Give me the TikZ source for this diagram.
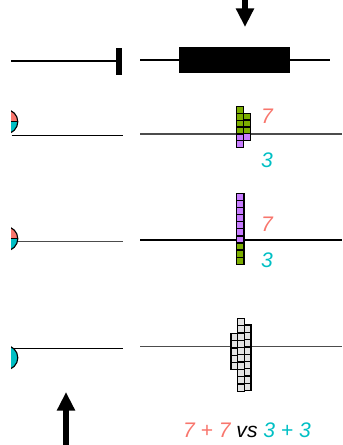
\documentclass[tikz,border=0pt]{standalone}
\usepackage{xcolor}
\usepackage{fontspec}
\setmainfont{Liberation Sans}
\usetikzlibrary{arrows.meta, positioning, calc}

\definecolor{allelered}{HTML}{F8766D}
\definecolor{allelecyan}{HTML}{00BFC4}
\definecolor{cellgreen}{HTML}{7CAE00}
\definecolor{cellpurple}{HTML}{C77CFF}
\definecolor{cellgray}{HTML}{E4E4E4}

\begin{document}
\begin{tikzpicture}[
    x=0.02cm, y=-0.02cm,
    font=\itshape\fontsize{12}{14}\selectfont,
    bigarrow/.style={line width=3.7pt, -{Triangle[width=9.8pt, length=10.6pt]}},
    axis/.style={line width=0.8pt},
    thickaxis/.style={line width=1.15pt},
    cell/.style={draw=black, line width=0.7pt},
    allele/.style={draw=black, line width=0.65pt},
    num/.style={inner sep=0pt}
  ]
  \useasboundingbox (0,0) rectangle (342,445);

  % arrows in and out
  \coordinate (intop) at (245,0);
  \coordinate (intip) at (245,27);
  \coordinate (outbase) at (66,446);
  \coordinate (outtip) at (66,392);
  \draw[bigarrow] (intop) -- (intip);
  \draw[bigarrow] (outbase) -- (outtip);

  % top row
  \draw[thickaxis] (11,61) -- (118,61);
  \fill (116,48) rectangle (122,75);
  \draw[thickaxis] (140,60) -- (330,60);
  \fill (179,47) rectangle (290,73);

  % left tracks
  \draw[axis] (11.7,135.5) -- (123,135.5);
  \draw[axis, black!70] (18,241.7) -- (123,241.7);
  \draw[axis] (12,348.3) -- (123,348.3);

  % alleles, cut at the left edge
  \begin{scope}
    \clip (11,90) rectangle (40,380);
    \foreach \cy/\upper in {121.7/allelered, 238.7/allelered, 357.7/allelecyan} {
      \begin{scope}
        \clip (5.6,\cy) circle (12.2);
        \fill[\upper] (0,\cy-13) rectangle (20,\cy);
        \fill[allelecyan] (0,\cy) rectangle (20,\cy+13);
      \end{scope}
      \draw[allele] (5.6,\cy) circle (12.2);
    }
    \draw[allele] (11,121.7) -- (18,121.7);
    \draw[allele] (11,238.7) -- (18,238.7);
  \end{scope}

  % right tracks
  \draw[axis, black!70] (140,134) -- (342,134);
  \draw[axis] (140,240) -- (342,240);
  \draw[axis, black!70] (140,346.7) -- (342,346.7);

  % first stack
  \foreach \i in {0,...,3}
    \filldraw[cell, fill=cellgreen] (236.7,106.7+\i*6.8) rectangle ++(7,6.8);
  \foreach \i in {4,5}
    \filldraw[cell, fill=cellpurple] (236.7,106.7+\i*6.8) rectangle ++(7,6.8);
  \foreach \i in {0,...,2}
    \filldraw[cell, fill=cellgreen] (243.7,113.3+\i*6.8) rectangle ++(7,6.8);
  \filldraw[cell, fill=cellpurple] (243.7,113.3+3*6.8) rectangle ++(7,6.8);

  % second stack
  \foreach \i in {0,...,6}
    \filldraw[cell, fill=cellpurple] (236.8,193.3+\i*7.1) rectangle ++(7.2,7.1);
  \foreach \i in {7,...,9}
    \filldraw[cell, fill=cellgreen] (236.8,193.3+\i*7.1) rectangle ++(7.2,7.1);

  % third stack
  \foreach \i in {0,...,4}
    \filldraw[cell, fill=cellgray] (231,333.3+\i*7.3) rectangle ++(6.7,7.3);
  \foreach \i in {0,...,9}
    \filldraw[cell, fill=cellgray] (237.7,318.3+\i*7.3) rectangle ++(6.6,7.3);
  \foreach \i in {0,...,8}
    \filldraw[cell, fill=cellgray] (244.3,325+\i*7.3) rectangle ++(6.7,7.3);

  % counts
  \node[num, text=allelered] (sevenA) at (267,116) {7};
  \node[num, text=allelecyan] (threeA) at (267,160) {3};
  \node[num, text=allelered] (sevenB) at (267,224) {7};
  \node[num, text=allelecyan] (threeB) at (267,260) {3};
  \node[num] (versus) at (247,430) {\textcolor{allelered}{7 + 7} vs \textcolor{allelecyan}{3 + 3}};
\end{tikzpicture}
\end{document}
